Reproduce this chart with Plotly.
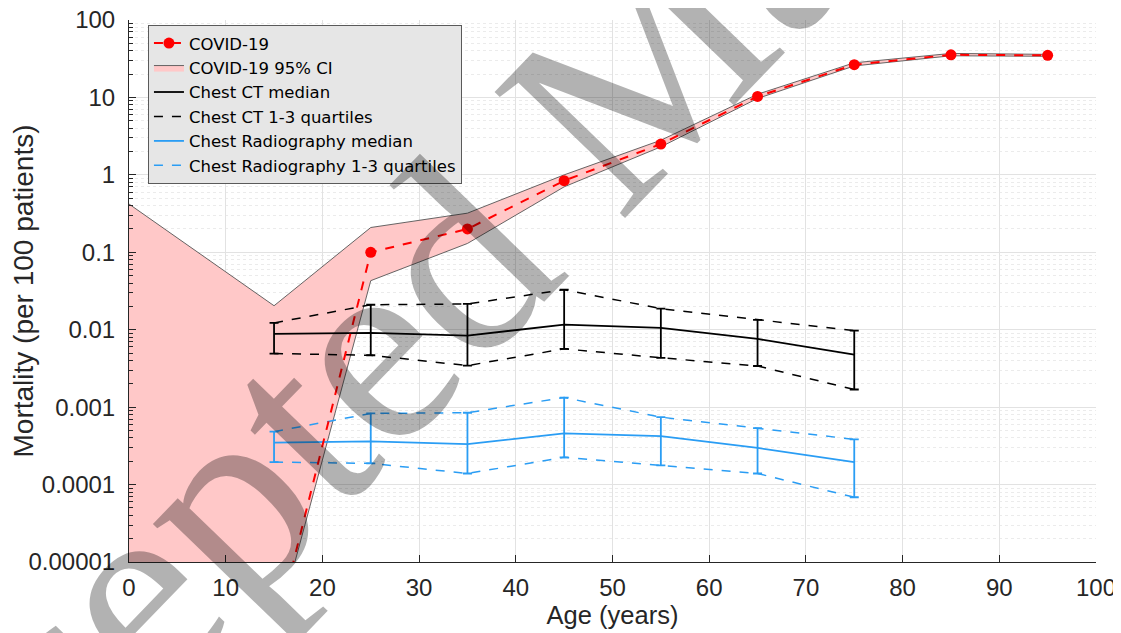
import plotly.graph_objects as go

# ---------------- data ----------------
covid_age = [15, 25, 35, 45, 55, 65, 75, 85, 95]
covid_mort = [1e-6, 0.1, 0.2, 0.84, 2.5, 10.3, 26.5, 35.5, 35.0]

ci_age = [0, 15, 25, 35, 45, 55, 65, 75, 85, 95]
ci_upper = [0.42, 0.0204, 0.209, 0.32, 1.0, 2.8, 11.0, 28.0, 37.0, 36.0]
ci_lower = [1e-6, 1e-6, 0.043, 0.13, 0.70, 2.3, 9.7, 25.5, 34.5, 34.0]

rad_age = [15, 25, 35, 45, 55, 65, 75]
ct_median = [0.00883, 0.0091, 0.0084, 0.01164, 0.01054, 0.0076, 0.00478]
ct_q3 = [0.01225, 0.021, 0.0215, 0.0329, 0.0187, 0.01337, 0.00973]
ct_q1 = [0.00492, 0.00468, 0.00344, 0.00566, 0.00434, 0.0034, 0.00169]

cxr_median = [0.000348, 0.000361, 0.000333, 0.000458, 0.000423, 0.000297, 0.000195]
cxr_q3 = [0.000482, 0.00083, 0.000847, 0.00133, 0.000743, 0.000536, 0.000384]
cxr_q1 = [0.000195, 0.000188, 0.000139, 0.000225, 0.000177, 0.000139, 0.0000686]

y_tickvals = [1e-5, 1e-4, 1e-3, 1e-2, 1e-1, 1, 10, 100]
y_ticktext = ["0.00001", "0.0001", "0.001", "0.01", "0.1", "1", "10", "100"]
x_tickvals = [0, 10, 20, 30, 40, 50, 60, 70, 80, 90, 100]

watermark_text = "Accepted Manuscript"

# ---------------- styling ----------------
FONT = "Liberation Sans, Arial, Helvetica, sans-serif"
LEGFONT = "DejaVu Sans, Liberation Sans, sans-serif"
RED = "#ff0000"
BLUE = "#2a9df4"
AXC = "#262626"

fig = go.Figure()

# CI polygon
fig.add_trace(go.Scatter(
    x=ci_age + ci_age[::-1],
    y=ci_upper + ci_lower[::-1],
    fill="toself", fillcolor="rgba(255,200,200,1)",
    line=dict(color="#555555", width=0.9),
    mode="lines", name="COVID-19 95% CI", legendrank=2,
))

# Chest CT quartiles (Q1 and Q3 as one dashed trace)
fig.add_trace(go.Scatter(
    x=rad_age + [None] + rad_age,
    y=ct_q1 + [None] + ct_q3,
    mode="lines", line=dict(color="black", width=1.5, dash="dash"),
    name="Chest CT 1-3 quartiles", legendrank=4,
))
# Chest CT median with error bars
fig.add_trace(go.Scatter(
    x=rad_age, y=ct_median, mode="lines",
    line=dict(color="black", width=1.8),
    error_y=dict(type="data", symmetric=False,
                 array=[q - m for q, m in zip(ct_q3, ct_median)],
                 arrayminus=[m - q for q, m in zip(ct_q1, ct_median)],
                 color="black", thickness=1.8, width=4.5),
    name="Chest CT median", legendrank=3,
))

# Chest radiography quartiles
fig.add_trace(go.Scatter(
    x=rad_age + [None] + rad_age,
    y=cxr_q1 + [None] + cxr_q3,
    mode="lines", line=dict(color=BLUE, width=1.5, dash="dash"),
    name="Chest Radiography 1-3 quartiles", legendrank=6,
))
fig.add_trace(go.Scatter(
    x=rad_age, y=cxr_median, mode="lines",
    line=dict(color=BLUE, width=1.8),
    error_y=dict(type="data", symmetric=False,
                 array=[q - m for q, m in zip(cxr_q3, cxr_median)],
                 arrayminus=[m - q for q, m in zip(cxr_q1, cxr_median)],
                 color=BLUE, thickness=1.8, width=4.5),
    name="Chest Radiography median", legendrank=5,
))

# COVID-19 line
fig.add_trace(go.Scatter(
    x=covid_age, y=covid_mort, mode="lines+markers",
    line=dict(color=RED, width=2, dash="dash"),
    marker=dict(color=RED, size=11),
    name="COVID-19", legendrank=1,
))

minor_vals = [m * 10 ** e for e in range(-5, 2) for m in range(2, 10)]

# the page body adds an 8px offset, so the figure is sized 8px smaller
fig.update_layout(
    width=1113, height=625,
    margin=dict(l=121, r=25, t=12, b=71, autoexpand=False),
    paper_bgcolor="white", plot_bgcolor="white",
    font=dict(family=FONT, color=AXC, size=24),
    showlegend=True,
    legend=dict(
        x=0.0196, y=0.991, xanchor="left", yanchor="top",
        bgcolor="#e6e6e6", bordercolor="#5a5a5a", borderwidth=1,
        font=dict(family=LEGFONT, size=16.5, color="black"),
        tracegroupgap=0, itemwidth=30,
    ),
    xaxis=dict(
        range=[0, 100], tickvals=x_tickvals, automargin=False,
        showgrid=True, gridcolor="#e2e2e2", gridwidth=1,
        showline=True, linecolor=AXC, linewidth=1,
        ticks="inside", ticklen=7, tickcolor=AXC,
        zeroline=False, mirror=False, ticklabeloverflow="allow",
        title=dict(text="Age (years)", font=dict(size=25.5), standoff=2),
        ticklabelstandoff=4,
    ),
    yaxis=dict(
        type="log", range=[-5, 2], automargin=False,
        tickvals=y_tickvals, ticktext=y_ticktext,
        showgrid=True, gridcolor="#e2e2e2", gridwidth=1,
        showline=True, linecolor=AXC, linewidth=1,
        ticks="inside", ticklen=7, tickcolor=AXC,
        zeroline=False, mirror=False, ticklabeloverflow="allow",
        minor=dict(tickvals=minor_vals, showgrid=True, gridcolor="#ebebeb",
                   griddash="dot", gridwidth=1, ticks="inside", ticklen=4,
                   tickcolor=AXC),
        title=dict(text="Mortality (per 100 patients)", font=dict(size=28), standoff=0),
        ticklabelstandoff=8,
    ),
    annotations=[dict(
        text=watermark_text, xref="paper", yref="paper",
        x=0.4912, y=0.8413, xanchor="center", yanchor="middle",
        showarrow=False, textangle=-46,
        font=dict(family="Liberation Serif, Times New Roman, serif", size=277,
                  color="rgba(0,0,0,0.3)"),
    )],
)

fig.write_html("out.html")
